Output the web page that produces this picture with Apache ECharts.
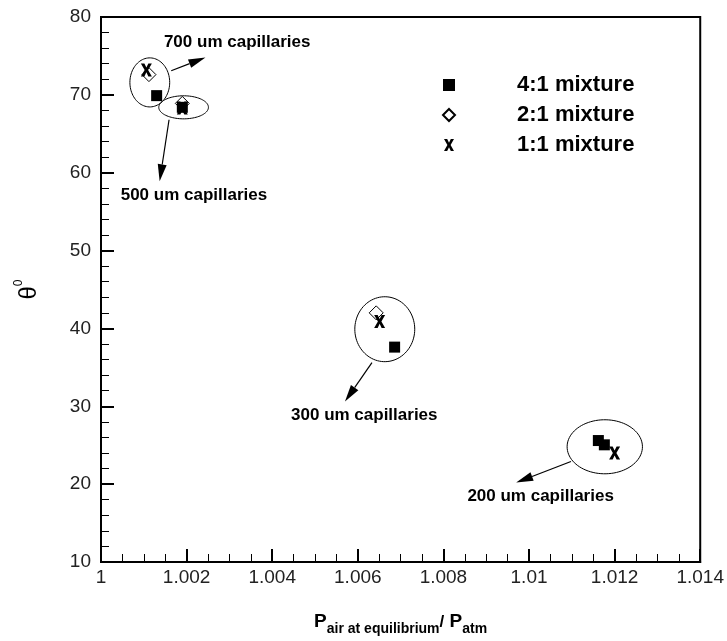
<!DOCTYPE html>
<html>
<head>
<meta charset="utf-8">
<script src="https://cdn.jsdelivr.net/npm/echarts@6/dist/echarts.min.js"></script>
<style>
  html, body { margin: 0; padding: 0; background: #fff; }
  #chart { width: 727px; height: 641px; }
</style>
</head>
<body>
<div id="chart"></div>
<script>
// values: [pressure ratio, theta]
var mix41 = [[1.0013, 69.9], [1.0019, 68.4], [1.00686, 37.6], [1.01162, 25.6], [1.01176, 25.05]]
var mix21 = [[1.00112, 72.6], [1.0019, 68.9], [1.00643, 42.0]]
var mix11 = [[1.00106, 73.2], [1.0019, 68.3], [1.00651, 40.9], [1.012, 24.0]]

var seriesNames = ['4:1 mixture', '2:1 mixture', '1:1 mixture']
var xTickLabels = ['1', '1.002', '1.004', '1.006', '1.008', '1.01', '1.012', '1.014']
var yTickLabels = ['10', '20', '30', '40', '50', '60', '70', '80']

// annotation groups: ellipse [cx, cy, rx, ry], arrow [x1, y1, x2, y2], label [x, y]
var groupNames = ['700 um capillaries', '500 um capillaries', '300 um capillaries', '200 um capillaries']
var ellipses = [
  [1.00114, 71.6, 0.000465, 3.15],
  [1.00193, 68.4, 0.00058, 1.48],
  [1.00663, 39.9, 0.0007, 4.17],
  [1.01177, 24.8, 0.00088, 3.47]
]
var arrows = [
  [1.00164, 73.1, 1.00244, 74.8],
  [1.00159, 66.8, 1.00137, 58.9],
  [1.00633, 35.6, 1.0057, 30.6],
  [1.01098, 22.9, 1.0097, 20.2]
]
var labelPos = [
  [1.00147, 76.8],
  [1.00046, 57.15],
  [1.00444, 28.9],
  [1.00856, 18.4]
]

var xMark = 'path://M0,0 H3.2 L5,3.8 L6.8,0 H10 L6.6,6 L10,12 H6.8 L5,8.2 L3.2,12 H0 L3.4,6 Z'
var font = 'Liberation Sans, Arial, sans-serif'

var chart = echarts.init(document.getElementById('chart'))

function renderEllipse(params, api) {
  var c = api.coord([api.value(0), api.value(1)])
  var s = api.size([api.value(2), api.value(3)])
  var pts = []
  for (var i = 0; i < 90; i++) {
    var a = i / 90 * Math.PI * 2
    pts.push([c[0] + s[0] * Math.cos(a), c[1] + s[1] * Math.sin(a)])
  }
  return {
    type: 'polygon',
    shape: { points: pts },
    style: { fill: 'none', stroke: '#000', lineWidth: 1 }
  }
}

function renderArrow(params, api) {
  var p1 = api.coord([api.value(0), api.value(1)])
  var p2 = api.coord([api.value(2), api.value(3)])
  var dx = p2[0] - p1[0]
  var dy = p2[1] - p1[1]
  var len = Math.sqrt(dx * dx + dy * dy)
  var ux = dx / len
  var uy = dy / len
  var head = 17
  var half = 4.5
  var bx = p2[0] - ux * head
  var by = p2[1] - uy * head
  return {
    type: 'group',
    children: [{
      type: 'line',
      shape: { x1: p1[0], y1: p1[1], x2: bx, y2: by },
      style: { stroke: '#000', lineWidth: 1.2 }
    }, {
      type: 'polygon',
      shape: { points: [[p2[0], p2[1]], [bx - uy * half, by + ux * half], [bx + uy * half, by - ux * half]] },
      style: { fill: '#000' }
    }]
  }
}

function renderLabel(params, api) {
  var p = api.coord([api.value(0), api.value(1)])
  return {
    type: 'text',
    x: p[0],
    y: p[1],
    style: {
      text: groupNames[params.dataIndex],
      fill: '#000',
      font: 'bold 17px ' + font,
      align: 'left',
      verticalAlign: 'middle'
    }
  }
}

chart.setOption({
  animation: false,
  grid: {
    left: 101,
    right: 24,
    top: 17,
    bottom: 79,
    show: true,
    borderColor: '#000',
    borderWidth: 2
  },
  legend: {
    orient: 'vertical',
    left: 437,
    top: 69,
    itemWidth: 12,
    itemHeight: 12,
    itemGap: 8,
    selectedMode: false,
    data: seriesNames,
    textStyle: {
      fontSize: 22,
      fontWeight: 'bold',
      fontFamily: font,
      color: '#000',
      padding: [0, 0, 0, 57]
    }
  },
  xAxis: {
    type: 'value',
    min: 1,
    max: 1.014,
    interval: 0.002,
    splitLine: { show: false },
    axisLine: { lineStyle: { color: '#000', width: 2 } },
    axisTick: { inside: true, length: 13, lineStyle: { color: '#000', width: 2 } },
    minorTick: { show: true, splitNumber: 4, length: 8, lineStyle: { color: '#000', width: 1 } },
    axisLabel: {
      margin: 6,
      fontSize: 19,
      fontFamily: font,
      color: '#222',
      formatter: function (v) {
        return xTickLabels[Math.round((v - 1) / 0.002)]
      }
    },
    name: '{p|P}{s|air at equilibrium}{sl|/}{p| P}{s|atm}',
    nameLocation: 'middle',
    nameGap: 46,
    nameTextStyle: {
      rich: {
        p: { fontSize: 19, fontWeight: 'bold', fontFamily: font, color: '#000', lineHeight: 28, verticalAlign: 'middle' },
        sl: { fontSize: 17, fontWeight: 'bold', fontFamily: font, color: '#000', lineHeight: 28, verticalAlign: 'middle' },
        s: { fontSize: 14, fontWeight: 'bold', fontFamily: '"Liberation Sans Narrow", ' + font, color: '#000', lineHeight: 14, verticalAlign: 'bottom' }
      }
    }
  },
  yAxis: {
    type: 'value',
    min: 10,
    max: 80,
    interval: 10,
    splitLine: { show: false },
    axisLine: { lineStyle: { color: '#000', width: 2 } },
    axisTick: { inside: true, length: 13, lineStyle: { color: '#000', width: 2 } },
    minorTick: { show: true, splitNumber: 5, length: 8, lineStyle: { color: '#000', width: 1 } },
    axisLabel: {
      margin: 10,
      fontSize: 19,
      fontFamily: font,
      color: '#222',
      formatter: function (v) {
        return yTickLabels[Math.round((v - 10) / 10)]
      }
    },
    name: '{t|θ}{s|0}',
    nameLocation: 'middle',
    nameGap: 60,
    nameTextStyle: {
      rich: {
        t: { fontSize: 24, fontFamily: font, color: '#000', lineHeight: 28, verticalAlign: 'bottom' },
        s: { fontSize: 12, fontFamily: font, color: '#000', lineHeight: 12, verticalAlign: 'top' }
      }
    }
  },
  series: [{
    type: 'custom',
    renderItem: renderEllipse,
    data: ellipses,
    silent: true,
    z: 1
  }, {
    type: 'custom',
    renderItem: renderArrow,
    data: arrows,
    silent: true,
    z: 1
  }, {
    type: 'custom',
    renderItem: renderLabel,
    data: labelPos,
    silent: true,
    z: 1
  }, {
    name: seriesNames[0],
    type: 'scatter',
    symbol: 'rect',
    symbolSize: 11,
    itemStyle: { color: '#000', opacity: 1 },
    data: mix41,
    z: 3
  }, {
    name: seriesNames[1],
    type: 'scatter',
    symbol: 'diamond',
    symbolSize: 14,
    itemStyle: { color: 'rgba(0,0,0,0)', borderColor: '#000', borderWidth: 1, opacity: 1 },
    data: mix21,
    z: 3
  }, {
    name: seriesNames[2],
    type: 'scatter',
    symbol: xMark,
    symbolSize: [11, 13],
    itemStyle: { color: '#000', opacity: 1 },
    data: mix11,
    z: 3
  }]
})
</script>
</body>
</html>
